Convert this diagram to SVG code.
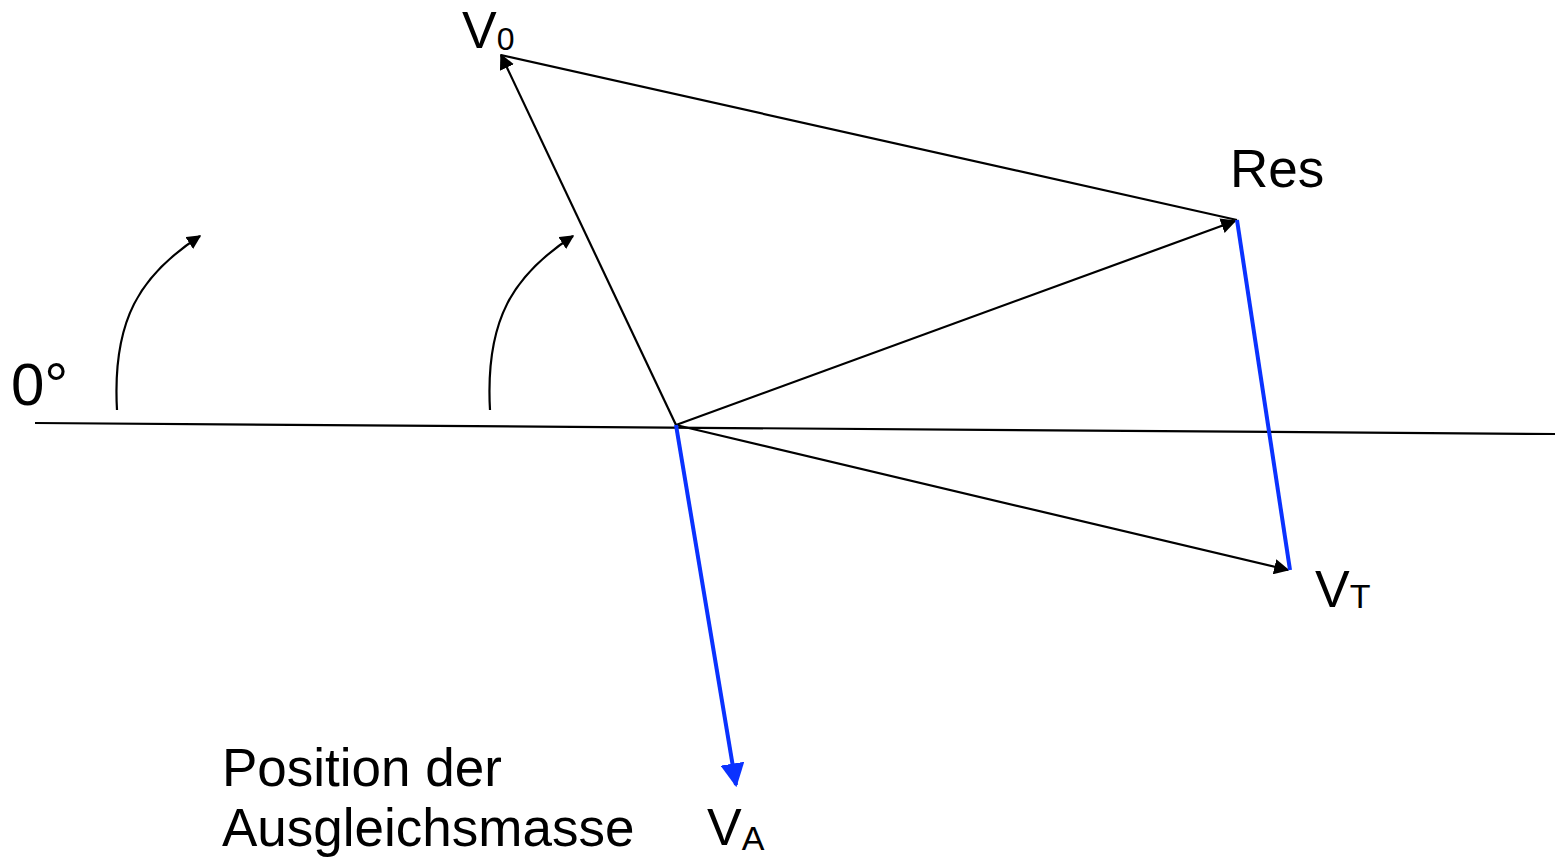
<svg xmlns="http://www.w3.org/2000/svg" width="1555" height="860" viewBox="0 0 1555 860">
<style>
.t{font-family:"Liberation Sans",Arial,sans-serif;fill:#000}
.k{stroke:#000;stroke-width:2.2;fill:none}
.b{stroke:#0a32ff;stroke-width:4;fill:none}
</style>
<defs>
<marker id="ak" viewBox="0 0 10 10" refX="9" refY="5" markerWidth="7" markerHeight="7" markerUnits="strokeWidth" orient="auto"><path d="M0,0 L10,5 L0,10 z" fill="#000"/></marker>
<marker id="ak2" viewBox="0 0 10 10" refX="9" refY="5" markerWidth="6.5" markerHeight="6.5" markerUnits="strokeWidth" orient="auto"><path d="M0,0 L10,5 L0,10 z" fill="#000"/></marker>
<marker id="ab" viewBox="0 0 10 10" refX="9" refY="5" markerWidth="6" markerHeight="6" markerUnits="strokeWidth" orient="auto"><path d="M0,0 L10,5 L0,10 z" fill="#0a32ff"/></marker>
</defs>
<g id="connectors">
<line class="k" x1="35" y1="423" x2="1555" y2="434"/>
<line class="k" x1="676" y1="425" x2="501" y2="55" marker-end="url(#ak)"/>
<line class="k" x1="501" y1="55" x2="1237" y2="220"/>
<line class="k" x1="676" y1="425" x2="1235" y2="221" marker-end="url(#ak)"/>
<line class="k" x1="676" y1="425" x2="1288" y2="570" marker-end="url(#ak)"/>
<line class="b" x1="1237" y1="220" x2="1290" y2="570"/>
<line class="b" x1="676" y1="425" x2="736" y2="785" marker-end="url(#ab)"/>
<path class="k" d="M117,410 C112,320 140,275 200,236" stroke-width="2.6" marker-end="url(#ak2)"/>
<path class="k" d="M490,410 C485,320 513,275 573,236" stroke-width="2.6" marker-end="url(#ak2)"/>
</g>
<g id="label-0deg"><text class="t" x="11" y="405" font-size="60">0°</text></g>
<g id="label-V0"><text class="t" x="462" y="48" font-size="52">V<tspan font-size="32" dy="2">0</tspan></text></g>
<g id="label-Res"><text class="t" x="1230" y="187" font-size="53">Res</text></g>
<g id="label-VT"><text class="t" x="1315" y="607" font-size="52">V<tspan font-size="34" dy="1">T</tspan></text></g>
<g id="label-VA"><text class="t" x="707" y="845" font-size="52">V<tspan font-size="34" dy="5">A</tspan></text></g>
<g id="label-position"><text class="t" x="222" y="786" font-size="53">Position der</text><text class="t" x="222" y="846" font-size="53">Ausgleichsmasse</text></g>
</svg>
